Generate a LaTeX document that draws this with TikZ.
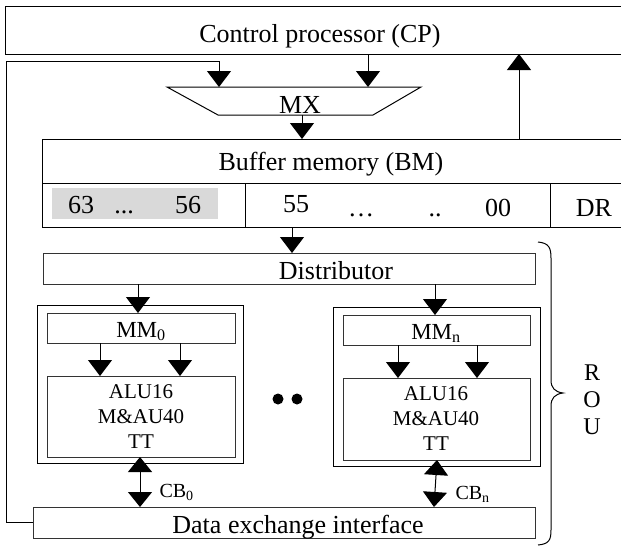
\documentclass[tikz,border=0pt]{standalone}
\usepackage{fontspec}
\setmainfont{Liberation Serif}
\usetikzlibrary{arrows.meta}
\begin{document}
\begin{tikzpicture}[x=1pt,y=-1pt,line width=1pt,
  box/.style={draw=black, inner sep=0pt, outer sep=0pt, anchor=north west},
  ibox/.style={box, draw=black!80},
  big/.style={inner sep=0pt, font=\fontsize{26}{30}\selectfont},
  mid/.style={inner sep=0pt, font=\fontsize{21}{25}\selectfont},
  mml/.style={inner sep=0pt, font=\fontsize{23}{27}\selectfont},
  sml/.style={inner sep=0pt, font=\fontsize{20}{23}\selectfont},
  arr/.style={-{Triangle[width=24pt,length=16pt]}},
  darr/.style={{Triangle[width=24pt,length=15pt]}-{Triangle[width=24pt,length=15pt]}}]
\useasboundingbox (0,0) rectangle (621,546);

% control processor
\node[box, minimum width=640pt, minimum height=48pt] (cp) at (5,6) {};
\node[big, anchor=base] (cpt) at (320,42) {Control processor (CP)};

% multiplexer
\coordinate (mxtl) at (167,87);
\coordinate (mxtr) at (421,87);
\coordinate (mxbr) at (373,115);
\coordinate (mxbl) at (218,115);
\draw (mxtl) -- (mxtr) -- (mxbr) -- (mxbl) -- cycle;
\node[big, anchor=base] (mx) at (300,113) {MX};
\coordinate (in1) at (219,87);
\coordinate (in2) at (368,87);
\coordinate (mxout) at (302,115);

% buffer memory
\node[box, minimum width=600pt, minimum height=44pt] (bm) at (42,139) {};
\node[big, anchor=base] (bmt) at (331,170) {Buffer memory (BM)};
\fill[gray!30] (52,188) rectangle (218,219);
\node[box, minimum width=203pt, minimum height=44pt] (c1) at (42,183) {};
\node[box, minimum width=305pt, minimum height=44pt] (c2) at (245,183) {};
\node[box, minimum width=100pt, minimum height=44pt] (c3) at (550,183) {};
\node[big, anchor=base] (t63) at (81,213) {63};
\node[big, anchor=base] (tdots1) at (124,213) {...};
\node[big, anchor=base] (t56) at (188,213) {56};
\node[big, anchor=base] (t55) at (296,212) {55};
\node[big, anchor=base] (tdots2) at (361,216) {\char"2026};
\node[big, anchor=base] (tdots3) at (435,216) {..};
\node[big, anchor=base] (t00) at (498,216) {00};
\node[big, anchor=base] (tdr) at (594,216) {DR};
\coordinate (up) at (519,139);
\coordinate (d0) at (292,227);

% distributor
\node[ibox, minimum width=492pt, minimum height=31pt] (dist) at (43,253) {};
\node[big, anchor=base] (distt) at (336,279) {Distributor};

% left module
\node[box, minimum width=206pt, minimum height=158pt] (m0) at (37,305) {};
\node[ibox, minimum width=188pt, minimum height=30pt] (mm0) at (47,313) {};
\node[mml, anchor=base] (mm0t) at (141,337) {MM\textsubscript{0}};
\node[ibox, minimum width=188pt, minimum height=81pt] (alu0) at (47,376) {};
\node[mid, align=center] (alu0t) at (141,417) {ALU16\\M\&AU40\\TT};

% right module
\node[box, minimum width=207pt, minimum height=159pt] (mn) at (333,307) {};
\node[ibox, minimum width=187pt, minimum height=30pt] (mmn) at (343,315) {};
\node[mml, anchor=base] (mmnt) at (436,339) {MM\textsubscript{n}};
\node[ibox, minimum width=187pt, minimum height=82pt] (alun) at (343,378) {};
\node[mid, align=center] (alunt) at (436,419) {ALU16\\M\&AU40\\TT};

% dots
\fill (278,399) circle (5.5pt);
\fill (297,399) circle (5.5pt);

% data exchange interface
\node[ibox, minimum width=502pt, minimum height=31pt] (dex) at (33,507) {};
\node[big, anchor=base] (dext) at (298,533) {Data exchange interface};

% labels CB
\node[sml, anchor=base west] (cb0) at (159,497) {CB\textsubscript{0}};
\node[sml, anchor=base west] (cbn) at (455,499) {CB\textsubscript{n}};

% connectors
\draw[arr] (dex.west) -| (6,61) -| (in1);
\draw[arr] (cp.south -| in2) -- (in2);
\draw[arr] (mxout) -- (mxout |- bm.north);
\draw[arr] (up) -- (up |- cp.south);
\draw[arr] (d0) -- (d0 |- dist.north);
\draw[arr] (dist.south -| 138,0) -- (mm0.north -| 138,0);
\draw[arr] (dist.south -| 435,0) -- (mmn.north -| 435,0);
\draw[arr] (mm0.south -| 100,0) -- (alu0.north -| 100,0);
\draw[arr] (mm0.south -| 180,0) -- (alu0.north -| 180,0);
\draw[arr] (mmn.south -| 398,0) -- (alun.north -| 398,0);
\draw[arr] (mmn.south -| 477,0) -- (alun.north -| 477,0);
\draw[darr] (alu0.south -| 140,0) -- (dex.north -| 140,0);
\draw[darr] (alun.south -| 437,0) -- (dex.north -| 434,0);

% brace and ROU
\draw (538,242) .. controls (549,243) and (551,248) .. (551,258) -- (551,380)
  .. controls (551,388) and (555,392) .. (563,393)
  .. controls (555,394) and (551,398) .. (551,406) -- (551,530)
  .. controls (551,540) and (549,544) .. (538,545);
\node[inner sep=0pt, font=\fontsize{24}{27}\selectfont, align=center] (rou) at (592,400) {R\\O\\U};
\end{tikzpicture}
\end{document}
